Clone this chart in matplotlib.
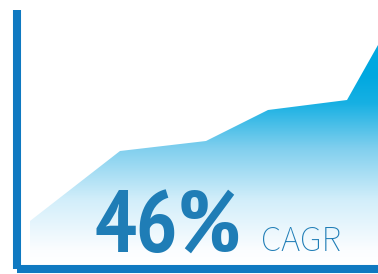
import matplotlib.pyplot as plt
import numpy as np
from matplotlib.colors import LinearSegmentedColormap
from matplotlib.patches import Polygon

# area profile (x in px from left, height above baseline in px)
periods = [30, 120, 206, 268, 347, 378]
values = [44, 114, 124, 155, 165, 220]

headline = "46%"
label = "CAGR"

line_color = "#0f79c1"
text_color = "#1f7db6"

fig = plt.figure(figsize=(3.78, 2.74), dpi=100)
ax = fig.add_axes([17 / 378, 5 / 274, 1 - 17 / 378, 259 / 274])

for side in ["top", "right"]:
    ax.spines[side].set_visible(False)
for side in ["left", "bottom"]:
    ax.spines[side].set_color(line_color)
    ax.spines[side].set_linewidth(5.8)
    ax.spines[side].set_capstyle("butt")
ax.set_xticks([])
ax.set_yticks([])

# gradient fill, clipped to the area outline
verts = [(periods[0], 0)] + list(zip(periods, values)) + [(periods[-1], 0)]
poly = Polygon(verts, closed=True, facecolor="none", edgecolor="none")
ax.add_patch(poly)
cmap = LinearSegmentedColormap.from_list(
    "area", [(0, "#ffffff"), (0.067, "#fbfdff"), (0.29, "#d2eefa"), (0.52, "#80cfee"),
             (0.72, "#17b0e3"), (0.845, "#00a8e0"), (1, "#00a8e0")], N=256)
grad = np.linspace(0, 1, 256).reshape(-1, 1)
img = ax.imshow(grad, cmap=cmap, origin="lower", aspect="auto",
                extent=[17, 378, 0, 225], interpolation="bilinear", zorder=1)
img.set_clip_path(poly)
ax.set_xlim(17, 378)
ax.set_ylim(-4, 255)

ax.text(95, 12, headline, fontsize=63, fontweight="bold", color=text_color,
        family=["PT Sans Narrow", "DejaVu Sans"], ha="left", va="baseline", zorder=3)
ax.text(261, 14, label, fontsize=26, fontweight=500, color=text_color,
        family=["Source Sans 3", "DejaVu Sans"], ha="left", va="baseline", zorder=3)

fig.savefig("out.png", dpi=100)
